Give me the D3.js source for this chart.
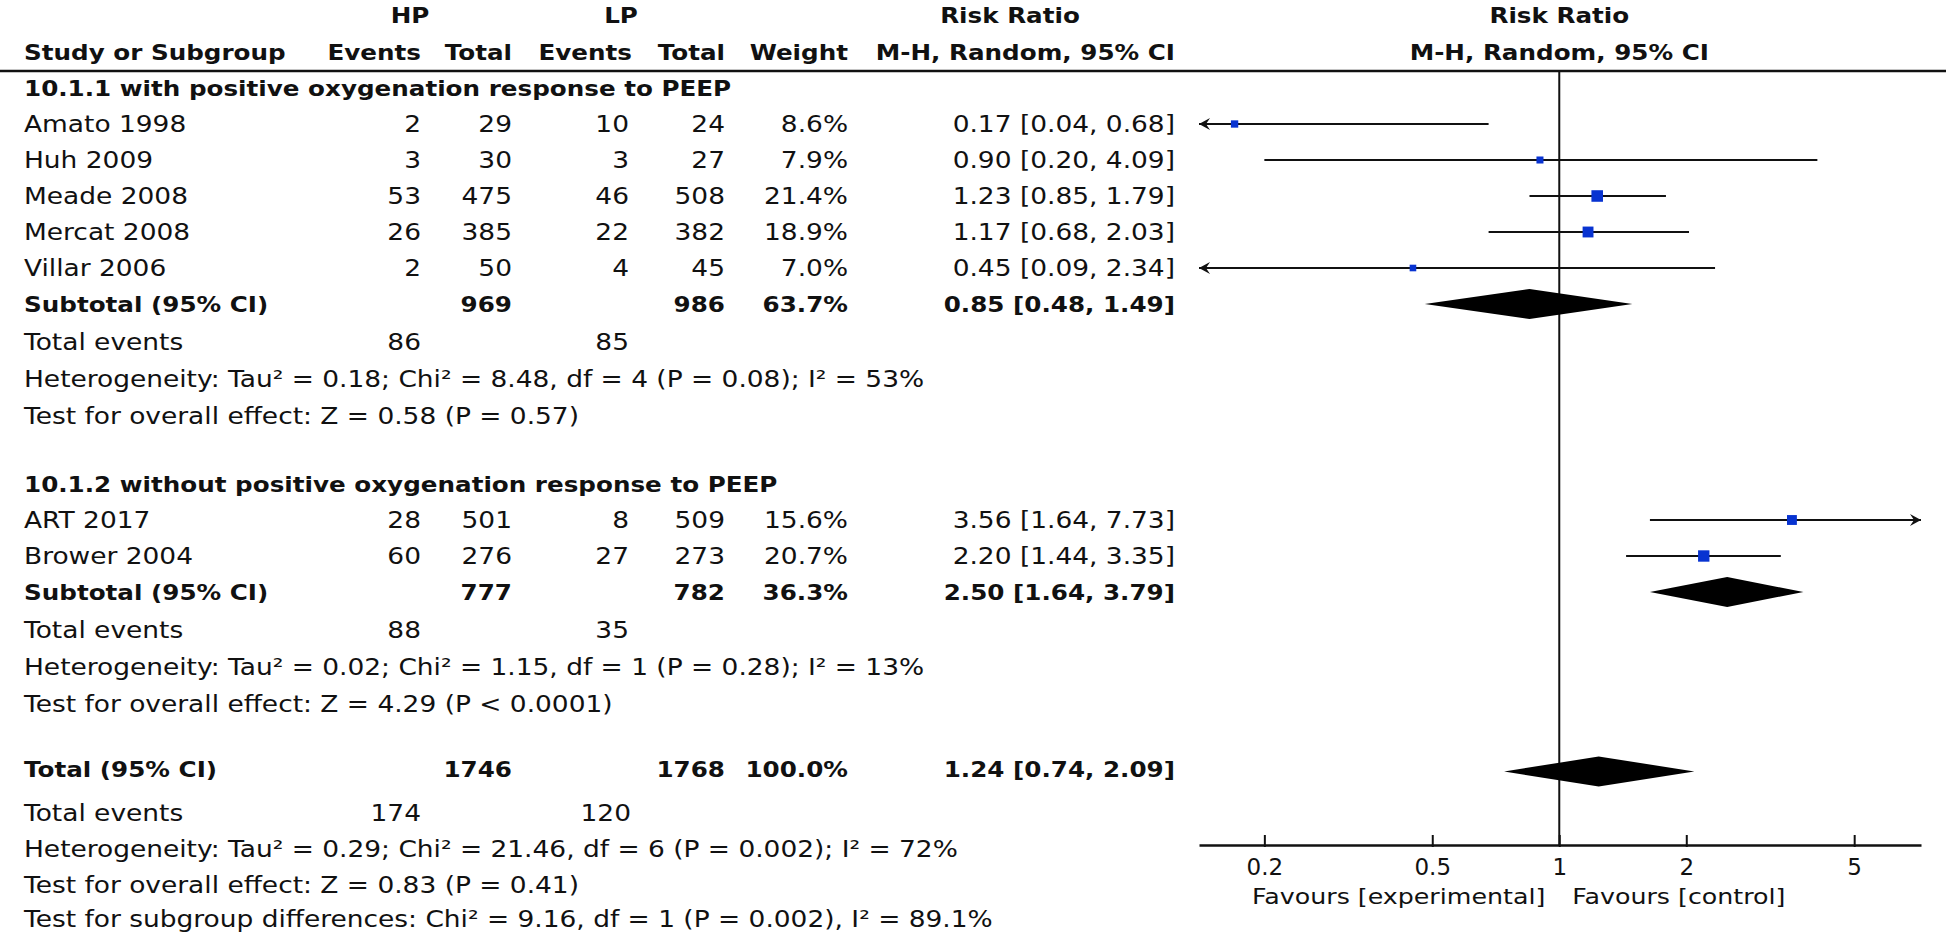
<!DOCTYPE html>
<html>
<head>
<meta charset="utf-8">
<script src="https://cdn.jsdelivr.net/npm/d3@7/dist/d3.min.js"></script>
<style>
  html, body { margin: 0; padding: 0; background: #fff; }
  svg { display: block; font-family: "DejaVu Sans", sans-serif; }
  text { fill: #111; }
</style>
</head>
<body>
<svg id="chart" width="1946" height="936"></svg>
<script>
// ---------------- data ----------------
const studies   = ["Amato 1998", "Huh 2009", "Meade 2008", "Mercat 2008", "Villar 2006", "ART 2017", "Brower 2004"];
const studyGroup = [0, 0, 0, 0, 0, 1, 1];
const hpEvents  = [2, 3, 53, 26, 2, 28, 60];
const hpTotal   = [29, 30, 475, 385, 50, 501, 276];
const lpEvents  = [10, 3, 46, 22, 4, 8, 27];
const lpTotal   = [24, 27, 508, 382, 45, 509, 273];
const weights   = [8.6, 7.9, 21.4, 18.9, 7.0, 15.6, 20.7];
const rrValues  = [0.17, 0.90, 1.23, 1.17, 0.45, 3.56, 2.20];
const rrLower   = [0.04, 0.20, 0.85, 0.68, 0.09, 1.64, 1.44];
const rrUpper   = [0.68, 4.09, 1.79, 2.03, 2.34, 7.73, 3.35];

const subgroupNames = ["10.1.1 with positive oxygenation response to PEEP",
                       "10.1.2 without positive oxygenation response to PEEP"];
const subHpTotal  = [969, 777];
const subLpTotal  = [986, 782];
const subWeight   = [63.7, 36.3];
const subRR       = [0.85, 2.50];
const subLower    = [0.48, 1.64];
const subUpper    = [1.49, 3.79];
const subHpEvents = [86, 88];
const subLpEvents = [85, 35];
const subHetText  = ["Heterogeneity: Tau² = 0.18; Chi² = 8.48, df = 4 (P = 0.08); I² = 53%",
                     "Heterogeneity: Tau² = 0.02; Chi² = 1.15, df = 1 (P = 0.28); I² = 13%"];
const subTestText = ["Test for overall effect: Z = 0.58 (P = 0.57)",
                     "Test for overall effect: Z = 4.29 (P < 0.0001)"];

const totalHpTotal = 1746, totalLpTotal = 1768, totalWeight = 100.0;
const totalRR = [1.24, 0.74, 2.09];
const totalHpEvents = 174, totalLpEvents = 120;
const totalHetText  = "Heterogeneity: Tau² = 0.29; Chi² = 21.46, df = 6 (P = 0.002); I² = 72%";
const totalTestText = "Test for overall effect: Z = 0.83 (P = 0.41)";
const subgroupDiffText = "Test for subgroup differences: Chi² = 9.16, df = 1 (P = 0.002), I² = 89.1%";

const tickValues = [0.2, 0.5, 1, 2, 5];
const favoursLeft = "Favours [experimental]";
const favoursRight = "Favours [control]";

// ---------------- layout ----------------
const svg = d3.select("#chart");
svg.append("rect").attr("width", 1946).attr("height", 936).attr("fill", "#fff");

const SXN = 1.15, SXB = 1.12;   // horizontal stretch of glyphs to match reference
const NORMAL = 23, BOLD = 22;
const LEFT = 24;
const col = { hpE: 421, hpT: 512, lpE: 629, lpT: 725, w: 848, rr: 1175 };

const x = d3.scaleLog().domain([0.14, 7.2]).range([1199, 1921]);
const xMin = x.domain()[0], xMax = x.domain()[1];
const row = d3.scaleLinear().domain([0, 1]).range([88, 124]);   // slot -> y

const fmt2 = d3.format(".2f");
const ciText = (r, l, u) => `${fmt2(r)} [${fmt2(l)}, ${fmt2(u)}]`;
const pct = w => d3.format(".1f")(w) + "%";

const textG = svg.append("g");
function T(xp, yp, str, opt = {}) {
  const sx = opt.bold ? SXB : SXN;
  return textG.append("text")
    .attr("transform", `translate(${xp},${yp}) scale(${sx},1)`)
    .attr("text-anchor", opt.anchor || "start")
    .attr("dominant-baseline", "central")
    .style("font-size", (opt.size || (opt.bold ? BOLD : NORMAL)) + "px")
    .style("font-weight", opt.bold ? "bold" : "normal")
    .text(str);
}

// header
const H1 = 15, H2 = 52, HLINE = 71, AXIS_Y = 845;
T(410, H1, "HP", { anchor: "middle", bold: true });
T(621, H1, "LP", { anchor: "middle", bold: true });
T(1010, H1, "Risk Ratio", { anchor: "middle", bold: true });
T(x(1), H1, "Risk Ratio", { anchor: "middle", bold: true });
T(LEFT, H2, "Study or Subgroup", { bold: true });
T(col.hpE, H2, "Events", { anchor: "end", bold: true });
T(col.hpT, H2, "Total", { anchor: "end", bold: true });
T(col.lpE + 3, H2, "Events", { anchor: "end", bold: true });
T(col.lpT, H2, "Total", { anchor: "end", bold: true });
T(col.w, H2, "Weight", { anchor: "end", bold: true });
T(col.rr, H2, "M-H, Random, 95% CI", { anchor: "end", bold: true });
T(x(1), H2, "M-H, Random, 95% CI", { anchor: "middle", bold: true });

svg.append("line").attr("x1", 0).attr("x2", 1946).attr("y1", HLINE).attr("y2", HLINE)
  .attr("stroke", "#111").attr("stroke-width", 2.5);

// no-effect line
const plotG = svg.append("g");
plotG.append("line").attr("x1", x(1)).attr("x2", x(1)).attr("y1", HLINE).attr("y2", AXIS_Y)
  .attr("stroke", "#111").attr("stroke-width", 2);

function arrow(tipX, y, dir) {
  const d = dir < 0
    ? `M${tipX},${y} L${tipX + 11},${y - 6} L${tipX + 7},${y} L${tipX + 11},${y + 6} Z`
    : `M${tipX},${y} L${tipX - 11},${y - 6} L${tipX - 7},${y} L${tipX - 11},${y + 6} Z`;
  plotG.append("path").attr("d", d).attr("fill", "#111");
}
function diamond(r, l, u, y) {
  plotG.append("polygon")
    .attr("points", [[x(l), y], [x(r), y - 15], [x(u), y], [x(r), y + 15]].map(p => p.join(",")).join(" "))
    .attr("fill", "#000");
}

// groups
const groupBase = [0, 11];
subgroupNames.forEach((name, g) => {
  const base = groupBase[g];
  T(LEFT, row(base), name, { bold: true });
  const idx = studies.map((s, i) => i).filter(i => studyGroup[i] === g);
  idx.forEach((i, k) => {
    const y = row(base + 1 + k);
    T(LEFT, y, studies[i]);
    T(col.hpE, y, hpEvents[i], { anchor: "end" });
    T(col.hpT, y, hpTotal[i], { anchor: "end" });
    T(col.lpE, y, lpEvents[i], { anchor: "end" });
    T(col.lpT, y, lpTotal[i], { anchor: "end" });
    T(col.w, y, pct(weights[i]), { anchor: "end" });
    T(col.rr, y, ciText(rrValues[i], rrLower[i], rrUpper[i]), { anchor: "end" });

    const lo = Math.max(rrLower[i], xMin), hi = Math.min(rrUpper[i], xMax);
    plotG.append("line").attr("x1", x(lo)).attr("x2", x(hi)).attr("y1", y).attr("y2", y)
      .attr("stroke", "#111").attr("stroke-width", 2);
    if (rrLower[i] < xMin) arrow(x(xMin), y, -1);
    if (rrUpper[i] > xMax) arrow(x(xMax), y, 1);
    const s = 2.5 * Math.sqrt(weights[i]);
    plotG.append("rect").attr("x", x(rrValues[i]) - s / 2).attr("y", y - s / 2)
      .attr("width", s).attr("height", s).attr("fill", "#0833d1");
  });
  const n = idx.length;
  const ys = row(base + n + 1);
  T(LEFT, ys, "Subtotal (95% CI)", { bold: true });
  T(col.hpT, ys, subHpTotal[g], { anchor: "end", bold: true });
  T(col.lpT, ys, subLpTotal[g], { anchor: "end", bold: true });
  T(col.w, ys, pct(subWeight[g]), { anchor: "end", bold: true });
  T(col.rr, ys, ciText(subRR[g], subLower[g], subUpper[g]), { anchor: "end", bold: true });
  diamond(subRR[g], subLower[g], subUpper[g], ys);

  const ye = row(base + n + 2.05);
  T(LEFT, ye, "Total events");
  T(col.hpE, ye, subHpEvents[g], { anchor: "end" });
  T(col.lpE, ye, subLpEvents[g], { anchor: "end" });
  T(LEFT, row(base + n + 3.1), subHetText[g]);
  T(LEFT, row(base + n + 4.12), subTestText[g]);
});

// overall
const yt = row(18.93);
T(LEFT, yt, "Total (95% CI)", { bold: true });
T(col.hpT, yt, totalHpTotal, { anchor: "end", bold: true });
T(col.lpT, yt, totalLpTotal, { anchor: "end", bold: true });
T(col.w, yt, pct(totalWeight), { anchor: "end", bold: true });
T(col.rr, yt, ciText(totalRR[0], totalRR[1], totalRR[2]), { anchor: "end", bold: true });
diamond(totalRR[0], totalRR[1], totalRR[2], yt + 2);

const yte = row(20.14);
T(LEFT, yte, "Total events");
T(col.hpE, yte, totalHpEvents, { anchor: "end" });
T(col.lpE + 2, yte, totalLpEvents, { anchor: "end" });
T(LEFT, row(21.14), totalHetText);
T(LEFT, row(22.14), totalTestText);
T(LEFT, row(23.1), subgroupDiffText);

// axis
const axis = d3.axisBottom(x).tickValues(tickValues).tickFormat(d => d)
  .tickSizeInner(-10).tickSizeOuter(0).tickPadding(14);
const ax = svg.append("g").attr("transform", `translate(0,${AXIS_Y})`).call(axis);
ax.select(".domain").attr("stroke", "#111").attr("stroke-width", 2.5);
ax.selectAll(".tick line").attr("stroke", "#111").attr("stroke-width", 2).attr("y2", 2).attr("y1", -10);
ax.selectAll(".tick text").style("font-size", NORMAL + "px").style("font-family", "DejaVu Sans")
  .attr("fill", "#111");

T(x(1) - 14, 897, favoursLeft, { anchor: "end", size: 22 });
T(x(1) + 13, 897, favoursRight, { anchor: "start", size: 22 });
</script>
</body>
</html>
